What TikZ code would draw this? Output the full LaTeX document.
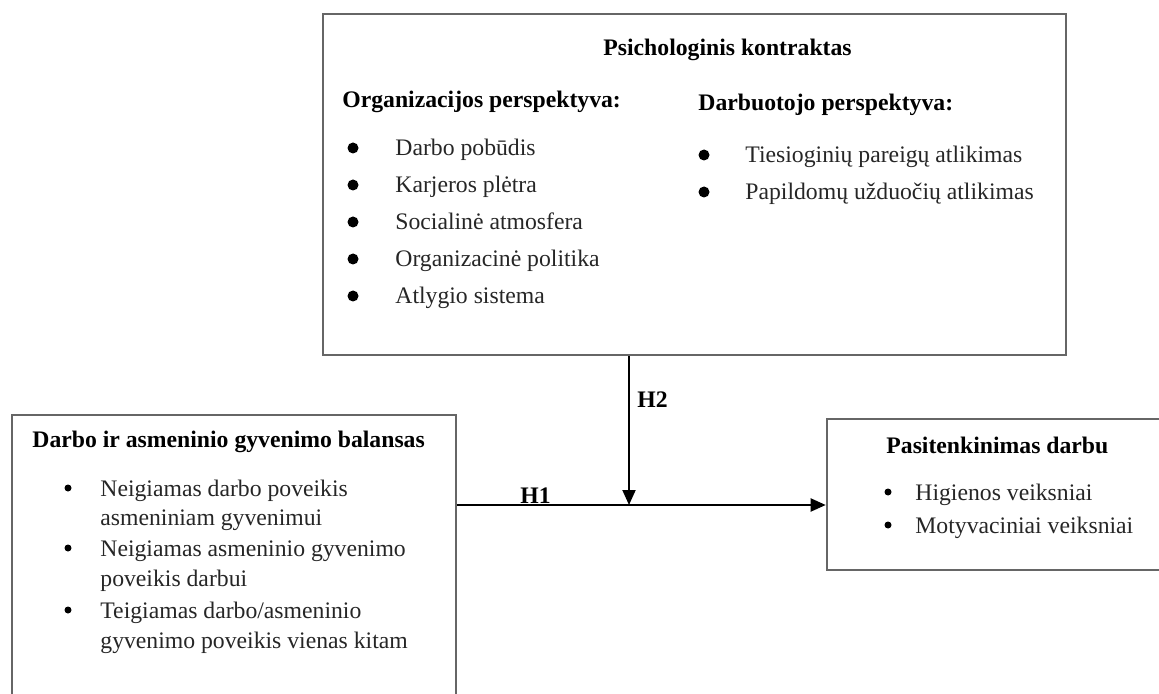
\documentclass[tikz,border=0pt]{standalone}
\usepackage{fontspec}
\setmainfont{Liberation Serif}
\usetikzlibrary{arrows.meta}

\tikzset{
  box/.style={draw=black!60, line width=1.3pt, rectangle, inner sep=0pt},
  hd/.style={font=\fontsize{11.85}{14}\selectfont\bfseries, anchor=base west, inner sep=0pt},
  txt/.style={font=\fontsize{11.85}{14}\selectfont, text=black!85, anchor=base west, inner sep=0pt},
  dot/.style={circle, fill=black, inner sep=0pt, minimum size=#1},
  arr/.style={-{Triangle[length=7.5pt,width=6.5pt]}, line width=1pt}
}

\begin{document}
\begin{tikzpicture}[x=0.5pt, y=-0.5pt]
	\clip (0,0) rectangle (1159,694);
	% boxes
	\node[box, minimum width=371.5pt, minimum height=170.5pt] (psy) at (694.5,184.5) {};
	\node[box, minimum width=222pt, minimum height=160pt] (wlb) at (234,575) {};
	\node[box, minimum width=174pt, minimum height=75.5pt] (sat) at (1001,494.5) {};

	% psichologinis kontraktas
	\node[hd] (psyt) at (603,56) {Psichologinis kontraktas};
	\node[hd] (org) at (342,108) {Organizacijos perspektyva:};
	\node[hd] (dar) at (698,111) {Darbuotojo perspektyva:};
	\foreach \t [count=\i] in {Darbo pobūdis, Karjeros plėtra, Socialinė atmosfera, Organizacinė politika, Atlygio sistema} {
		\node[dot=5.5pt] (ob\i) at (353,111+37*\i) {};
		\node[txt] (o\i) at (395,119+37*\i) {\t};
	}
	\foreach \t [count=\i] in {Tiesioginių pareigų atlikimas, Papildomų užduočių atlikimas} {
		\node[dot=5.5pt] (db\i) at (704,118+37*\i) {};
		\node[txt] (d\i) at (745,126+37*\i) {\t};
	}

	% darbo ir asmeninio gyvenimo balansas
	\node[hd] (wlbt) at (32,447) {Darbo ir asmeninio gyvenimo balansas};
	\node[dot=3.5pt] (wb1) at (68,488) {};
	\node[dot=3.5pt] (wb2) at (68,548) {};
	\node[dot=3.5pt] (wb3) at (68,610) {};
	\node[txt] (w1) at (100,496) {Neigiamas darbo poveikis};
	\node[txt] (w2) at (100,525) {asmeniniam gyvenimui};
	\node[txt] (w3) at (100,556) {Neigiamas asmeninio gyvenimo};
	\node[txt] (w4) at (100,586) {poveikis darbui};
	\node[txt] (w5) at (100,618) {Teigiamas darbo/asmeninio};
	\node[txt] (w6) at (100,648) {gyvenimo poveikis vienas kitam};

	% pasitenkinimas darbu
	\node[hd] (satt) at (886,453) {Pasitenkinimas darbu};
	\node[dot=3.5pt] (sb1) at (888,492) {};
	\node[dot=3.5pt] (sb2) at (888,525) {};
	\node[txt] (s1) at (915,500) {Higienos veiksniai};
	\node[txt] (s2) at (915,533) {Motyvaciniai veiksniai};

	% connectors
	\coordinate (mid) at (629,505);
	\draw[arr] (wlb.east |- mid) -- (sat.west |- mid);
	\draw[arr] (psy.south -| mid) -- (mid);
	\node[hd] (h1) at (520,503) {H1};
	\node[hd] (h2) at (637,408) {H2};
\end{tikzpicture}
\end{document}
